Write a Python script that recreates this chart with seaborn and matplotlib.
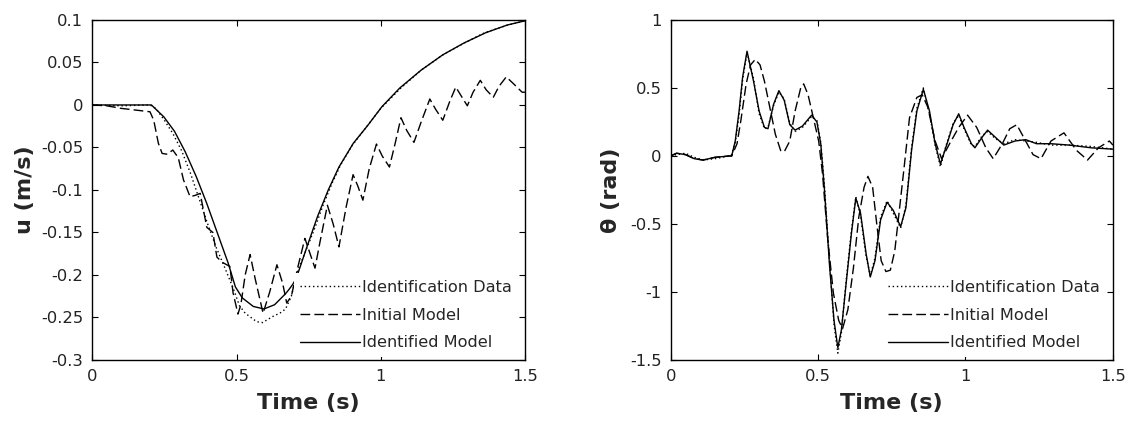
import matplotlib
matplotlib.use("Agg")
import matplotlib.pyplot as plt
import seaborn as sns

# ---- left panel: u (m/s) ----
u_fit_t = [0, 0.1, 0.2, 0.205, 0.248, 0.285, 0.322, 0.36, 0.397, 0.434, 0.471, 0.496, 0.52,
           0.558, 0.595, 0.632, 0.67, 0.682, 0.695, 0.707, 0.744, 0.781, 0.818, 0.855, 0.905,
           0.955, 1.004, 1.066, 1.14, 1.215, 1.289, 1.364, 1.438, 1.5]
u_fit = [0, 0, 0, 0, -0.014, -0.031, -0.055, -0.084, -0.116, -0.151, -0.186, -0.214, -0.227,
         -0.237, -0.240, -0.235, -0.222, -0.217, -0.211, -0.204, -0.167, -0.131, -0.100, -0.073, -0.045,
         -0.024, -0.002, 0.020, 0.041, 0.059, 0.073, 0.085, 0.094, 0.099]

u_data_t = [0, 0.1, 0.2, 0.22, 0.25, 0.28, 0.31, 0.34, 0.37, 0.40, 0.43, 0.46, 0.49, 0.51, 0.53,
            0.55, 0.57, 0.59, 0.61, 0.63, 0.65, 0.67, 0.69, 0.71, 0.73, 0.75, 0.77, 0.80, 0.83,
            0.86, 0.9, 0.95, 1.0, 1.07, 1.14, 1.22, 1.29, 1.36, 1.44, 1.5]
u_data = [0, -0.001, 0, -0.004, -0.018, -0.034, -0.054, -0.080, -0.110, -0.140, -0.168, -0.192, -0.217,
          -0.236, -0.245, -0.250, -0.255, -0.256, -0.252, -0.248, -0.245, -0.240, -0.225, -0.197, -0.180,
          -0.163, -0.146, -0.118, -0.093, -0.071, -0.048, -0.026, -0.004, 0.020, 0.041, 0.060, 0.073,
          0.085, 0.094, 0.099]

u_init_t = [0, 0.05, 0.1, 0.15, 0.2, 0.213, 0.229, 0.242, 0.26, 0.279, 0.298, 0.316, 0.339, 0.36,
            0.374, 0.397, 0.418, 0.432, 0.45, 0.477, 0.488, 0.505, 0.515, 0.53, 0.547, 0.565, 0.592,
            0.615, 0.64, 0.66, 0.674, 0.69, 0.713, 0.737, 0.755, 0.772, 0.79, 0.815, 0.835, 0.855,
            0.88, 0.904, 0.92, 0.938, 0.96, 0.985, 1.005, 1.03, 1.05, 1.07, 1.09, 1.115, 1.14, 1.17,
            1.19, 1.215, 1.24, 1.26, 1.28, 1.3, 1.32, 1.345, 1.365, 1.39, 1.41, 1.435, 1.46, 1.49, 1.5]
u_init = [0, -0.001, -0.004, -0.006, -0.008, -0.018, -0.045, -0.057, -0.058, -0.053, -0.062, -0.088,
          -0.108, -0.106, -0.104, -0.144, -0.150, -0.179, -0.185, -0.190, -0.221, -0.246, -0.235, -0.200,
          -0.176, -0.205, -0.245, -0.220, -0.188, -0.210, -0.233, -0.225, -0.190, -0.157, -0.175, -0.192,
          -0.160, -0.118, -0.140, -0.167, -0.120, -0.082, -0.095, -0.112, -0.075, -0.046, -0.060, -0.073,
          -0.045, -0.015, -0.030, -0.044, -0.020, 0.007, -0.005, -0.018, 0.005, 0.021, 0.010, -0.001,
          0.015, 0.029, 0.018, 0.009, 0.022, 0.033, 0.025, 0.015, 0.015]

# ---- right panel: theta (rad) ----
th_fit_t = [0, 0.02, 0.05, 0.08, 0.11, 0.15, 0.2, 0.207, 0.219, 0.232, 0.244, 0.259, 0.281, 0.3,
            0.318, 0.33, 0.349, 0.367, 0.385, 0.404, 0.422, 0.447, 0.478, 0.496, 0.509, 0.521, 0.539,
            0.554, 0.567, 0.579, 0.595, 0.613, 0.628, 0.644, 0.663, 0.677, 0.693, 0.712, 0.734, 0.755,
            0.78, 0.798, 0.817, 0.835, 0.857, 0.878, 0.897, 0.915, 0.933, 0.958, 0.977, 0.995, 1.02,
            1.032, 1.057, 1.075, 1.1, 1.13, 1.168, 1.204, 1.241, 1.29, 1.352, 1.426, 1.5]
th_fit = [0, 0.02, 0.01, -0.02, -0.03, -0.01, 0, 0.0, 0.11, 0.33, 0.58, 0.77, 0.55, 0.33,
          0.21, 0.20, 0.38, 0.48, 0.41, 0.23, 0.19, 0.22, 0.30, 0.25, 0.09, -0.23, -0.81,
          -1.21, -1.41, -1.28, -0.94, -0.57, -0.31, -0.42, -0.72, -0.89, -0.77, -0.47, -0.34, -0.40,
          -0.52, -0.38, 0.04, 0.33, 0.49, 0.33, 0.09, -0.06, 0.06, 0.23, 0.31, 0.21, 0.09,
          0.06, 0.14, 0.19, 0.14, 0.08, 0.11, 0.12, 0.09, 0.09, 0.08, 0.06, 0.05]

th_data_t = [0, 0.02, 0.05, 0.08, 0.11, 0.15, 0.2, 0.207, 0.219, 0.232, 0.244, 0.259, 0.281, 0.3,
             0.318, 0.33, 0.349, 0.367, 0.385, 0.404, 0.422, 0.447, 0.478, 0.496, 0.509, 0.521, 0.539,
             0.554, 0.567, 0.579, 0.595, 0.613, 0.628, 0.644, 0.663, 0.677, 0.693, 0.712, 0.734, 0.755,
             0.78, 0.798, 0.817, 0.835, 0.857, 0.878, 0.897, 0.915, 0.933, 0.958, 0.977, 0.995, 1.02,
             1.032, 1.057, 1.075, 1.1, 1.13, 1.168, 1.204, 1.241, 1.29, 1.352, 1.426, 1.5]
th_data = [0, 0.01, 0.02, -0.01, -0.03, -0.02, 0, 0.01, 0.10, 0.30, 0.56, 0.76, 0.57, 0.31,
           0.20, 0.21, 0.37, 0.47, 0.42, 0.24, 0.18, 0.21, 0.29, 0.26, 0.10, -0.20, -0.78,
           -1.24, -1.45, -1.30, -0.92, -0.55, -0.30, -0.44, -0.74, -0.88, -0.75, -0.45, -0.33, -0.42,
           -0.53, -0.36, 0.06, 0.35, 0.50, 0.31, 0.08, -0.08, 0.07, 0.24, 0.30, 0.20, 0.08,
           0.07, 0.15, 0.18, 0.13, 0.09, 0.12, 0.11, 0.10, 0.08, 0.08, 0.07, 0.05]

th_init_t = [0, 0.02, 0.05, 0.08, 0.11, 0.15, 0.2, 0.207, 0.225, 0.238, 0.256, 0.271, 0.287, 0.303,
             0.318, 0.336, 0.355, 0.373, 0.385, 0.404, 0.422, 0.441, 0.451, 0.466, 0.484, 0.502,
             0.515, 0.533, 0.552, 0.57, 0.583, 0.601, 0.62, 0.638, 0.656, 0.669, 0.685, 0.7, 0.714,
             0.73, 0.745, 0.76, 0.773, 0.792, 0.81, 0.835, 0.853, 0.872, 0.897, 0.919, 0.946, 0.977,
             1.007, 1.038, 1.069, 1.094, 1.125, 1.15, 1.174, 1.204, 1.229, 1.256, 1.29, 1.334, 1.377,
             1.414, 1.451, 1.488, 1.5]
th_init = [0, 0.02, 0.01, -0.02, -0.03, -0.01, 0, 0.0, 0.09, 0.26, 0.53, 0.67, 0.71, 0.67,
           0.55, 0.36, 0.16, 0.04, 0.03, 0.11, 0.33, 0.50, 0.53, 0.45, 0.28, 0.11,
           -0.13, -0.62, -1.01, -1.21, -1.27, -1.13, -0.82, -0.45, -0.23, -0.15, -0.23, -0.52, -0.77,
           -0.85, -0.84, -0.70, -0.45, -0.08, 0.28, 0.43, 0.45, 0.36, 0.11, -0.02, 0.09, 0.21,
           0.30, 0.21, 0.06, -0.02, 0.09, 0.20, 0.23, 0.11, 0.01, -0.02, 0.11, 0.17, 0.04,
           -0.03, 0.06, 0.11, 0.08]

legend_labels = ["Identification Data", "Initial Model", "Identified Model"]
x_ticks = [0, 0.5, 1, 1.5]
x_ticklabels = ["0", "0.5", "1", "1.5"]
u_ticks = [0.1, 0.05, 0, -0.05, -0.1, -0.15, -0.2, -0.25, -0.3]
u_ticklabels = ["0.1", "0.05", "0", "-0.05", "-0.1", "-0.15", "-0.2", "-0.25", "-0.3"]
th_ticks = [1, 0.5, 0, -0.5, -1, -1.5]
th_ticklabels = ["1", "0.5", "0", "-0.5", "-1", "-1.5"]

sns.set_style("ticks")
plt.rcParams["font.family"] = ["DejaVu Sans"]
plt.rcParams["axes.unicode_minus"] = False

fig = plt.figure(figsize=(11.31, 4.22), dpi=100)
ax1 = fig.add_axes([0.0816, 0.147, 0.3826, 0.8057])
ax2 = fig.add_axes([0.593, 0.147, 0.391, 0.8057])

dotted = (0, (1, 2))
dashed = (0, (7, 3))

panels = [
    (ax1, u_data_t, u_data, u_init_t, u_init, u_fit_t, u_fit, (-0.3, 0.1),
     u_ticks, u_ticklabels, "u (m/s)", -0.155, 0.466),
    (ax2, th_data_t, th_data, th_init_t, th_init, th_fit_t, th_fit, (-1.5, 1),
     th_ticks, th_ticklabels, "\u03b8 (rad)", -0.135, 0.477),
]

for (ax, dt, dv, it, iv, ft, fv, ylim, yt, ytl, ylab, ylab_x, leg_x) in panels:
    sns.lineplot(x=dt, y=dv, ax=ax, color="k", lw=1.0, linestyle=dotted,
                 label=legend_labels[0], legend=False)
    sns.lineplot(x=it, y=iv, ax=ax, color="k", lw=1.0, linestyle=dashed,
                 label=legend_labels[1], legend=False)
    sns.lineplot(x=ft, y=fv, ax=ax, color="k", lw=1.0,
                 label=legend_labels[2], legend=False)

    ax.set_xlim(0, 1.5)
    ax.set_ylim(*ylim)
    ax.set_xticks(x_ticks)
    ax.set_xticklabels(x_ticklabels)
    ax.set_yticks(yt)
    ax.set_yticklabels(ytl)
    ax.tick_params(direction="in", length=4, width=0.8, top=True, right=True,
                   labelsize=11.8, labelcolor="#222222", pad=6.5, color="k")
    for sp in ax.spines.values():
        sp.set_color("k")
        sp.set_linewidth(1.0)

    ax.set_xlabel("Time (s)", fontsize=16, fontweight="bold", va="center")
    ax.xaxis.set_label_coords(0.5, -0.126)
    ax.set_ylabel(ylab, fontsize=16, fontweight="bold", va="center")
    ax.yaxis.set_label_coords(ylab_x, 0.5)

    leg = ax.legend(loc="center left", bbox_to_anchor=(leg_x, 0.132), fontsize=11.6,
                    frameon=True, fancybox=False, facecolor="white", edgecolor="none",
                    framealpha=1, handlelength=3.7, handletextpad=0.15,
                    labelspacing=0.8, borderpad=0.4, borderaxespad=0)

fig.savefig("out.png", dpi=100, facecolor="white")
